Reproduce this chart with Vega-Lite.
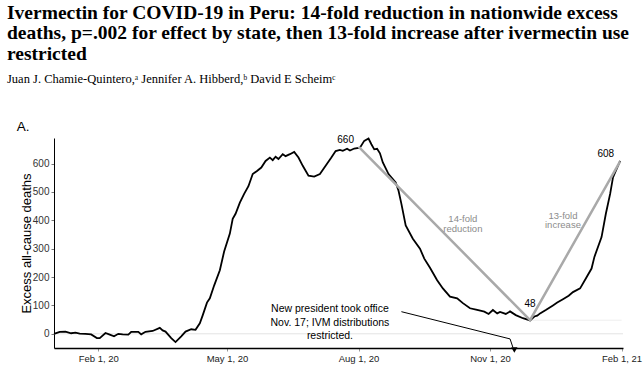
{
  "$schema": "https://vega.github.io/schema/vega-lite/v6.json",
  "width": 569,
  "height": 210,
  "autosize": "none",
  "padding": {"left": 54, "top": 138, "right": 20, "bottom": 21},
  "background": "white",
  "config": {"view": {"stroke": null}, "font": "Liberation Sans"},
  "title": {
    "text": ["Ivermectin for COVID-19 in Peru: 14-fold reduction in nationwide excess", "deaths, p=.002 for effect by state, then 13-fold increase after ivermectin use", "restricted"],
    "subtitle": "Juan J. Chamie-Quintero,ᵃ Jennifer A. Hibberd,ᵇ David E Scheimᶜ",
    "anchor": "start",
    "frame": "group",
    "dx": -47,
    "offset": 33,
    "font": "Liberation Serif",
    "fontSize": 19.5,
    "fontWeight": "bold",
    "lineHeight": 20.5,
    "color": "black",
    "subtitleFont": "Liberation Serif",
    "subtitleFontSize": 12.5,
    "subtitleColor": "black",
    "subtitlePadding": 9
  },
  "datasets": {
    "curve": [
      {"date": "2020-01-01", "v": 0}, {"date": "2020-01-05", "v": 7}, {"date": "2020-01-09", "v": 8},
      {"date": "2020-01-13", "v": 2}, {"date": "2020-01-16", "v": 4}, {"date": "2020-01-19", "v": 1}, {"date": "2020-01-23", "v": 0},
      {"date": "2020-01-27", "v": -2}, {"date": "2020-01-31", "v": -15}, {"date": "2020-02-02", "v": -15},
      {"date": "2020-02-06", "v": 3}, {"date": "2020-02-09", "v": -3}, {"date": "2020-02-12", "v": -9},
      {"date": "2020-02-15", "v": 0}, {"date": "2020-02-18", "v": -2}, {"date": "2020-02-22", "v": -3}, {"date": "2020-02-24", "v": 7},
      {"date": "2020-02-29", "v": 7}, {"date": "2020-03-02", "v": -2}, {"date": "2020-03-05", "v": 7},
      {"date": "2020-03-10", "v": 10}, {"date": "2020-03-15", "v": 21}, {"date": "2020-03-17", "v": 12},
      {"date": "2020-03-19", "v": 8}, {"date": "2020-03-23", "v": -15}, {"date": "2020-03-26", "v": -29},
      {"date": "2020-03-30", "v": -9}, {"date": "2020-04-02", "v": 8}, {"date": "2020-04-06", "v": 16},
      {"date": "2020-04-09", "v": 14}, {"date": "2020-04-12", "v": 37}, {"date": "2020-04-14", "v": 65},
      {"date": "2020-04-17", "v": 110}, {"date": "2020-04-19", "v": 125}, {"date": "2020-04-22", "v": 170}, {"date": "2020-04-26", "v": 224},
      {"date": "2020-04-29", "v": 290}, {"date": "2020-05-03", "v": 353}, {"date": "2020-05-05", "v": 405}, {"date": "2020-05-07", "v": 423}, {"date": "2020-05-10", "v": 462}, {"date": "2020-05-13", "v": 493},
      {"date": "2020-05-16", "v": 520}, {"date": "2020-05-19", "v": 563}, {"date": "2020-05-22", "v": 574}, {"date": "2020-05-25", "v": 586},
      {"date": "2020-05-28", "v": 609}, {"date": "2020-05-31", "v": 621}, {"date": "2020-06-02", "v": 612}, {"date": "2020-06-04", "v": 624},
      {"date": "2020-06-06", "v": 616}, {"date": "2020-06-09", "v": 633}, {"date": "2020-06-11", "v": 626}, {"date": "2020-06-14", "v": 633}, {"date": "2020-06-17", "v": 641},
      {"date": "2020-06-20", "v": 621}, {"date": "2020-06-23", "v": 592}, {"date": "2020-06-27", "v": 557},
      {"date": "2020-07-01", "v": 554}, {"date": "2020-07-05", "v": 563}, {"date": "2020-07-09", "v": 592},
      {"date": "2020-07-13", "v": 621}, {"date": "2020-07-16", "v": 644}, {"date": "2020-07-19", "v": 648}, {"date": "2020-07-21", "v": 645},
      {"date": "2020-07-24", "v": 652}, {"date": "2020-07-26", "v": 646}, {"date": "2020-07-29", "v": 653}, {"date": "2020-08-02", "v": 656},
      {"date": "2020-08-05", "v": 680}, {"date": "2020-08-08", "v": 688}, {"date": "2020-08-10", "v": 668},
      {"date": "2020-08-12", "v": 650}, {"date": "2020-08-14", "v": 652}, {"date": "2020-08-16", "v": 636}, {"date": "2020-08-18", "v": 604},
      {"date": "2020-08-22", "v": 563}, {"date": "2020-08-27", "v": 533}, {"date": "2020-08-29", "v": 504},
      {"date": "2020-08-31", "v": 458}, {"date": "2020-09-03", "v": 382}, {"date": "2020-09-08", "v": 335},
      {"date": "2020-09-13", "v": 300}, {"date": "2020-09-16", "v": 265}, {"date": "2020-09-20", "v": 233},
      {"date": "2020-09-25", "v": 189}, {"date": "2020-09-29", "v": 160}, {"date": "2020-10-04", "v": 131},
      {"date": "2020-10-09", "v": 125}, {"date": "2020-10-13", "v": 108}, {"date": "2020-10-18", "v": 90},
      {"date": "2020-10-23", "v": 84}, {"date": "2020-10-28", "v": 78}, {"date": "2020-10-31", "v": 70},
      {"date": "2020-11-03", "v": 84}, {"date": "2020-11-06", "v": 72}, {"date": "2020-11-08", "v": 77}, {"date": "2020-11-12", "v": 70},
      {"date": "2020-11-15", "v": 79}, {"date": "2020-11-19", "v": 66}, {"date": "2020-11-24", "v": 55},
      {"date": "2020-11-29", "v": 47}, {"date": "2020-12-02", "v": 61}, {"date": "2020-12-04", "v": 64}, {"date": "2020-12-06", "v": 72},
      {"date": "2020-12-10", "v": 84}, {"date": "2020-12-15", "v": 100}, {"date": "2020-12-18", "v": 110}, {"date": "2020-12-22", "v": 122},
      {"date": "2020-12-26", "v": 134}, {"date": "2020-12-29", "v": 147}, {"date": "2021-01-03", "v": 160}, {"date": "2021-01-07", "v": 195},
      {"date": "2021-01-11", "v": 230}, {"date": "2021-01-13", "v": 271}, {"date": "2021-01-18", "v": 341},
      {"date": "2021-01-21", "v": 423}, {"date": "2021-01-24", "v": 493}, {"date": "2021-01-26", "v": 551},
      {"date": "2021-01-29", "v": 586}, {"date": "2021-01-31", "v": 609}
    ],
    "vee": [
      {"date": "2020-08-01", "v": 660}, {"date": "2020-11-29", "v": 48}, {"date": "2021-01-31", "v": 608}
    ],
    "zero": [{"date": "2020-01-01", "date2": "2021-02-02", "v": 0}],
    "minline": [{"date": "2020-11-29", "date2": "2021-02-01", "v": 48}],
    "numbers": [
      {"date": "2020-07-23", "v": 682, "label": "660"},
      {"date": "2020-11-29", "v": 106, "label": "48"},
      {"date": "2021-01-21", "v": 635, "label": "608"}
    ],
    "gray": [
      {"date": "2020-10-13", "v": 404, "label": "14-fold\nreduction"},
      {"date": "2020-12-22", "v": 416, "label": "13-fold\nincrease"}
    ],
    "note": [{"date": "2020-07-12", "v": 86, "label": "New president took office\nNov. 17; IVM distributions\nrestricted."}],
    "arrow": [
      {"date": "2020-08-31", "v": 78}, {"date": "2020-11-15", "v": -18}, {"date": "2020-11-17", "v": -48}
    ],
    "head": [{"date": "2020-11-18", "v": -57}],
    "panel": [{"date": "2019-12-06", "v": 716, "label": "A."}]
  },
  "encoding": {
    "x": {
      "field": "date", "type": "temporal",
      "scale": {"type": "utc", "domain": [{"year": 2020, "month": 1, "date": 1, "utc": true}, {"year": 2021, "month": 2, "date": 2, "utc": true}]},
      "axis": {
        "values": [
          {"year": 2020, "month": 2, "date": 1, "utc": true},
          {"year": 2020, "month": 5, "date": 1, "utc": true},
          {"year": 2020, "month": 8, "date": 1, "utc": true},
          {"year": 2020, "month": 11, "date": 1, "utc": true},
          {"year": 2021, "month": 2, "date": 1, "utc": true}
        ],
        "labelExpr": "utcFormat(datum.value, '%b %-d, %y')",
        "title": null, "grid": false,
        "labelFontSize": 9.5, "labelColor": "#222", "labelPadding": 2,
        "domainColor": "black", "domainWidth": 1.5,
        "tickColor": "#999", "tickSize": 3
      }
    },
    "y": {
      "field": "v", "type": "quantitative",
      "scale": {"domain": [-50, 690], "nice": false, "zero": false},
      "axis": {
        "values": [0, 100, 200, 300, 400, 500, 600],
        "title": "Excess all-cause deaths", "titleFontSize": 13, "titleFontWeight": "normal", "titleColor": "black", "titlePadding": -1,
        "grid": false,
        "labelFontSize": 10, "labelColor": "#333", "labelPadding": 2,
        "domainColor": "black", "domainWidth": 1,
        "tickColor": "#777", "tickSize": 3
      }
    }
  },
  "layer": [
    {"data": {"name": "zero"}, "mark": {"type": "rule", "color": "#e3e3e3", "strokeWidth": 1}, "encoding": {"x2": {"field": "date2"}}},
    {"data": {"name": "minline"}, "mark": {"type": "rule", "color": "#eeeeee", "strokeWidth": 1}, "encoding": {"x2": {"field": "date2"}}},
    {"data": {"name": "curve"}, "mark": {"type": "line", "color": "black", "strokeWidth": 1.8}},
    {"data": {"name": "vee"}, "mark": {"type": "line", "color": "#a9a9a9", "strokeWidth": 2.5}},
    {"data": {"name": "numbers"}, "mark": {"type": "text", "fontSize": 10, "color": "black", "baseline": "middle", "align": "center"}, "encoding": {"text": {"field": "label"}}},
    {"data": {"name": "gray"}, "mark": {"type": "text", "fontSize": 9.5, "color": "#8c8c8c", "baseline": "middle", "align": "center", "lineBreak": "\n", "lineHeight": 9.5}, "encoding": {"text": {"field": "label"}}},
    {"data": {"name": "note"}, "mark": {"type": "text", "fontSize": 10.5, "color": "black", "baseline": "middle", "align": "center", "lineBreak": "\n", "lineHeight": 13.5}, "encoding": {"text": {"field": "label"}}},
    {"data": {"name": "arrow"}, "mark": {"type": "line", "color": "black", "strokeWidth": 1}},
    {"data": {"name": "head"}, "mark": {"type": "point", "shape": "triangle-down", "filled": true, "color": "black", "size": 40, "opacity": 1}},
    {"data": {"name": "panel"}, "mark": {"type": "text", "fontSize": 13.5, "color": "black", "baseline": "alphabetic", "align": "left"}, "encoding": {"text": {"field": "label"}}}
  ]
}
